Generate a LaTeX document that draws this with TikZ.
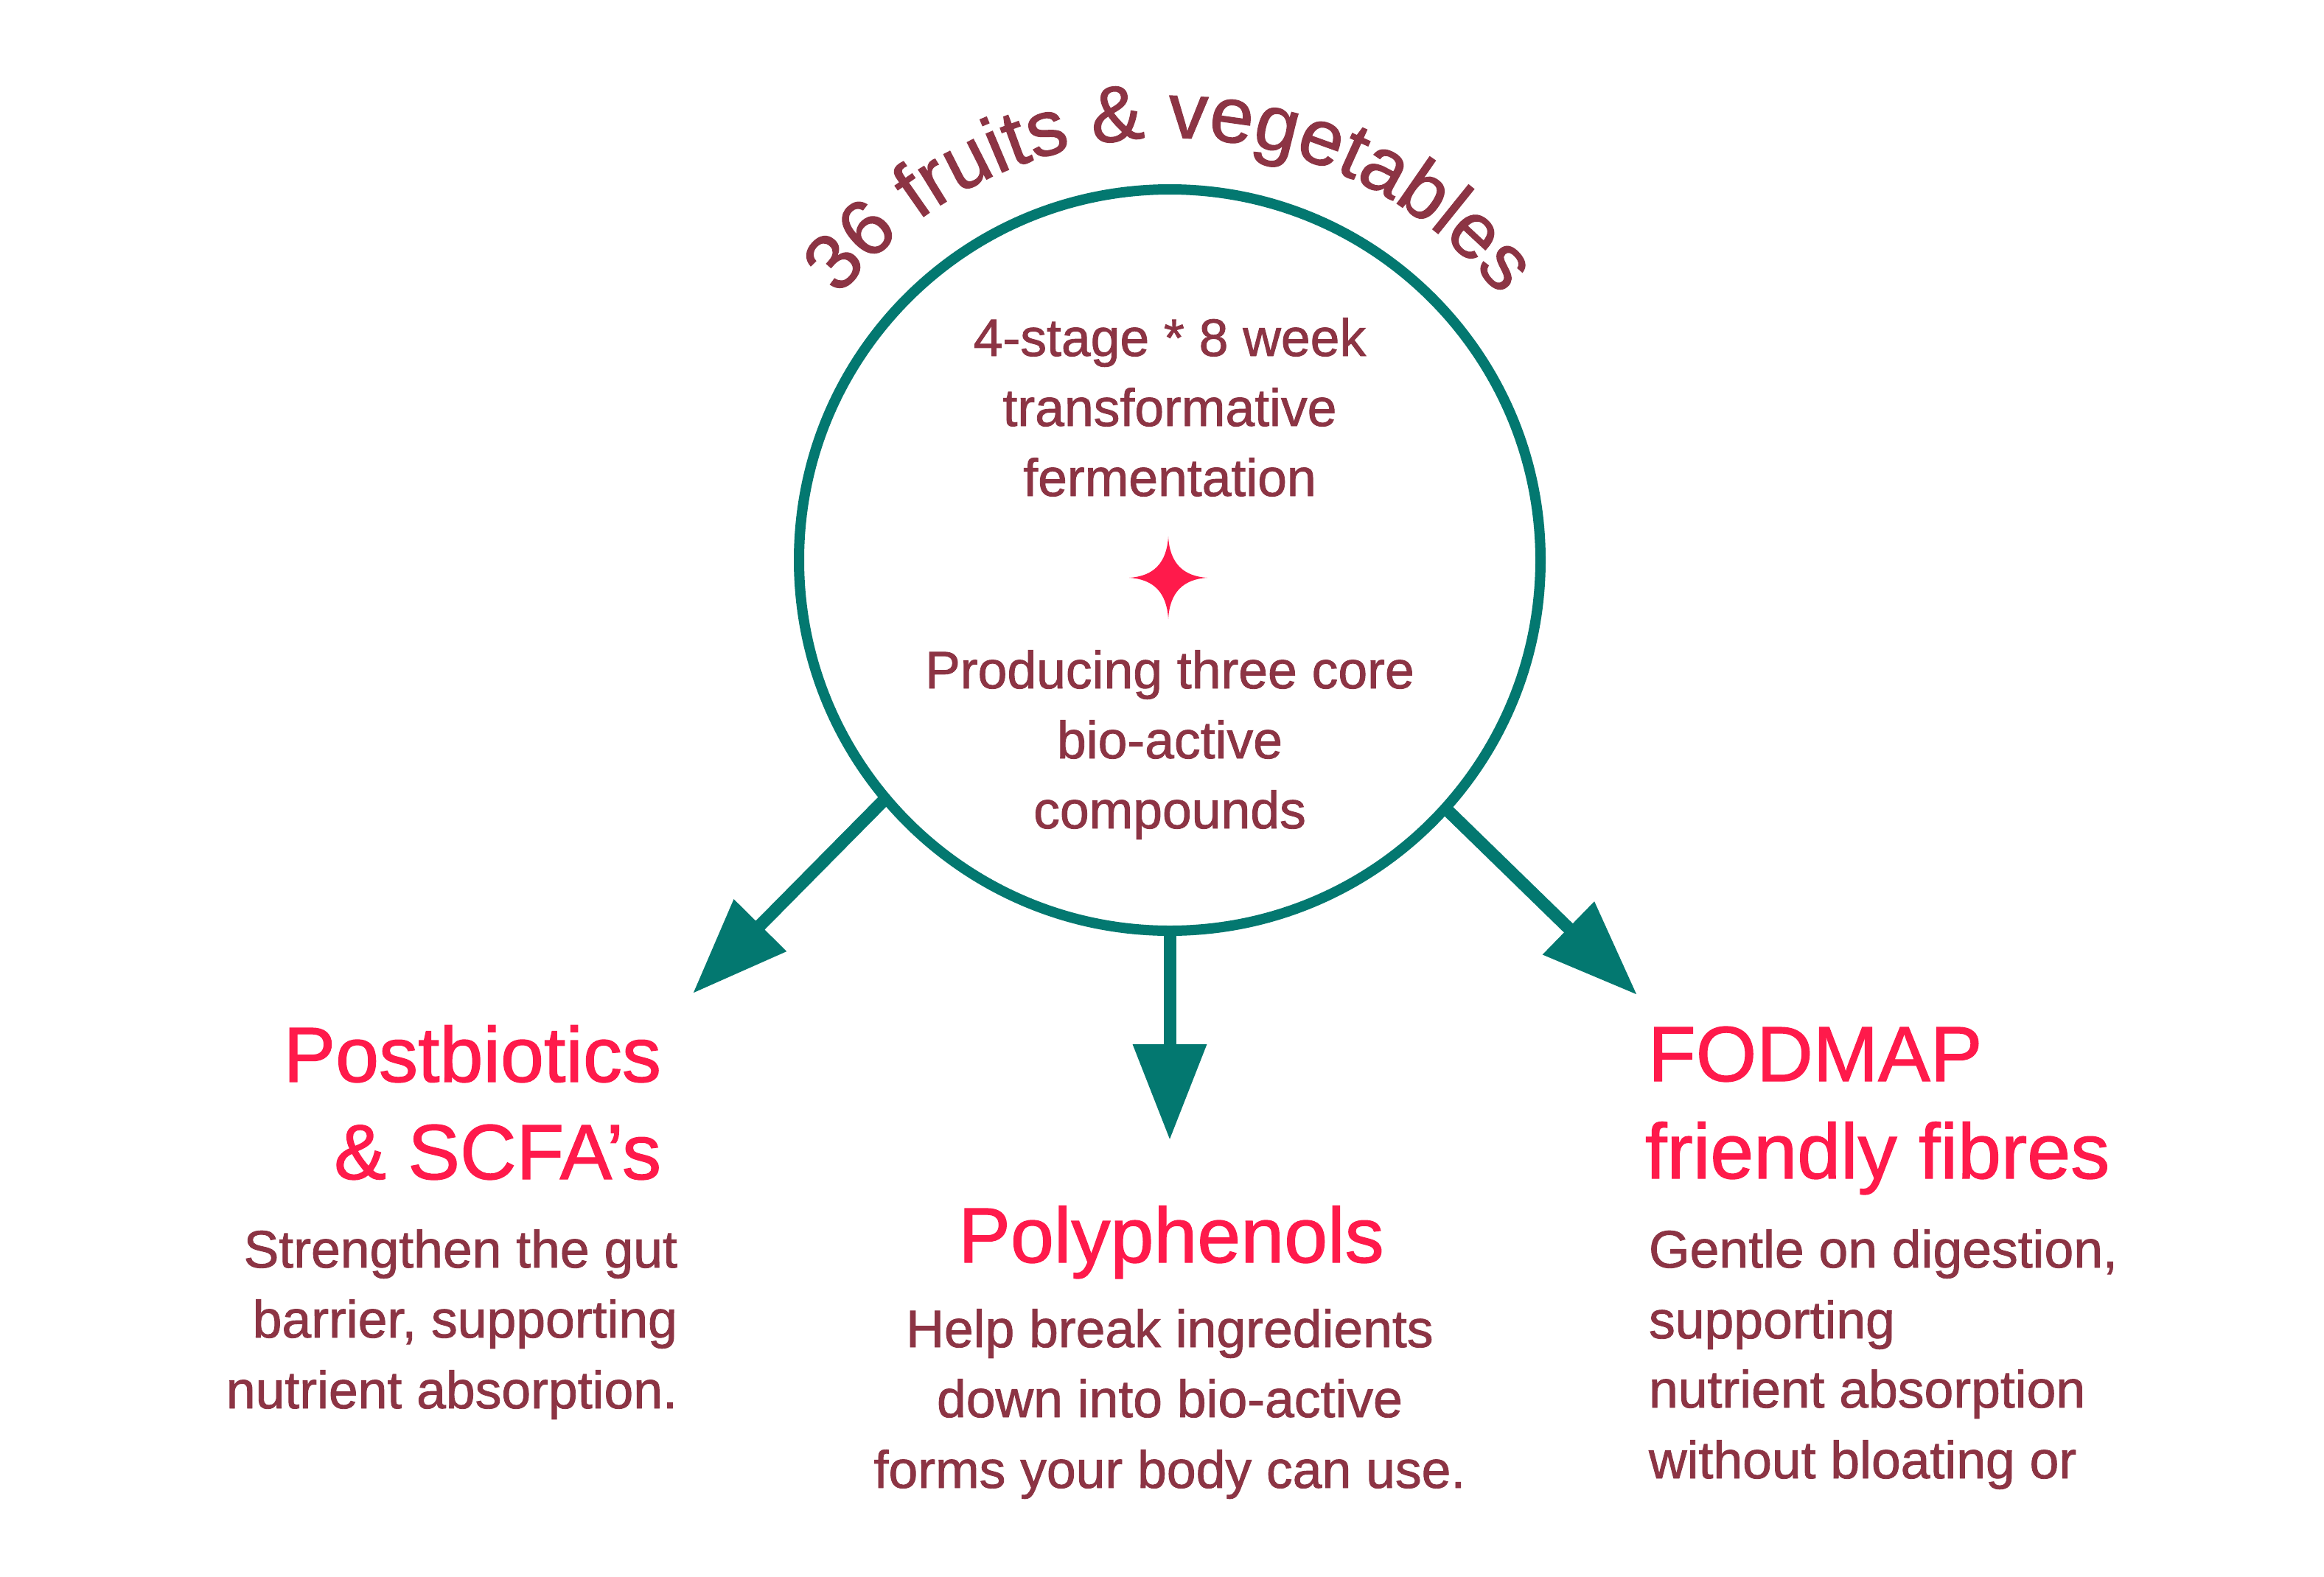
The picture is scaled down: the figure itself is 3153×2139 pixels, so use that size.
\documentclass[tikz,border=0pt]{standalone}
\usepackage{fontspec}
\setmainfont{Liberation Sans}[FakeBold=1.2]
\usetikzlibrary{arrows.meta}
\definecolor{teal1}{HTML}{037870}
\definecolor{maroon1}{HTML}{8C3444}
\definecolor{hot}{HTML}{FF1A4B}
\newcommand\bodyfnt{\fontsize{71.5pt}{95pt}\selectfont}
\newcommand\headfnt{\fontsize{106pt}{132pt}\selectfont}
\newcommand\titlefnt{\fontsize{107pt}{120pt}\selectfont}
\begin{document}
\begin{tikzpicture}[x=1pt,y=1pt,
  bodytxt/.style={font=\bodyfnt, text=maroon1, inner sep=0pt, outer sep=0pt},
  headtxt/.style={font=\headfnt, text=hot, inner sep=0pt, outer sep=0pt},
  titletxt/.style={font=\titlefnt, text=maroon1, inner sep=0pt, outer sep=0pt, anchor=base},
  flow/.style={draw=teal1, line width=17pt, -{Triangle[length=130pt,width=96pt]}}]
\useasboundingbox (0,0) rectangle (3153,-2139);
\fill[white] (0,0) rectangle (3153,-2139);

% hub circle
\node[circle, draw=teal1, line width=14pt, minimum size=1006pt, inner sep=0pt, outer sep=0pt] (hub) at (1587,-760) {};

% curved title, one glyph at a time along a circle of radius 575
\coordinate (tc) at (1587,-762);
\foreach \ch/\ang [count=\k] in {3/138.30, 6/132.37, f/124.96, r/121.70, u/116.96, i/112.81,
    t/110.15, s/106.00, \&/96.82, v/87.63, e/82.00, g/76.07, e/70.14, t/65.70, a/61.25,
    b/55.32, l/51.18, e/47.03, s/41.40}
  \node[titletxt, rotate=\ang-90] (title\k) at ([shift={(\ang:575)}]tc) {\ch};

% text inside circle
\node[bodytxt, anchor=base] (c1) at (1587,-483) {4-stage * 8 week};
\node[bodytxt, anchor=base] (c2) at (1587,-578) {transformative};
\node[bodytxt, anchor=base] (c3) at (1587,-673) {fermentation};
\node[bodytxt, anchor=base] (c4) at (1587,-934) {Producing three core};
\node[bodytxt, anchor=base] (c5) at (1587,-1029) {bio-active};
\node[bodytxt, anchor=base] (c6) at (1587,-1124) {compounds};

% sparkle
\begin{scope}[shift={(1585,-784)}]
\fill[hot] (0,56) .. controls (2,20) and (20,2) .. (53,0)
  .. controls (20,-2) and (2,-20) .. (0,-56)
  .. controls (-2,-20) and (-20,-2) .. (-53,0)
  .. controls (-20,2) and (-2,20) .. (0,56) -- cycle;
\end{scope}

% arrows
\coordinate (tipL) at (940,-1348);
\coordinate (tipM) at (1587,-1547);
\coordinate (tipR) at (2221,-1350);
\draw[flow] (hub.220) -- (tipL);
\draw[flow] (hub.south) -- (tipM);
\draw[flow] (hub.318) -- (tipR);

% left column
\node[headtxt, anchor=base east] (l1) at (897,-1468) {Postbiotics};
\node[headtxt, anchor=base east] (l2) at (897,-1600) {\& SCFA’s};
\node[bodytxt, anchor=base east] (l3) at (919,-1720) {Strengthen the gut};
\node[bodytxt, anchor=base east] (l4) at (919,-1815) {barrier, supporting};
\node[bodytxt, anchor=base east] (l5) at (919,-1911) {nutrient absorption.};

% middle column
\node[headtxt, anchor=base] (m1) at (1589,-1713) {Polyphenols};
\node[bodytxt, anchor=base] (m2) at (1587,-1828) {Help break ingredients};
\node[bodytxt, anchor=base] (m3) at (1587,-1923) {down into bio-active};
\node[bodytxt, anchor=base] (m4) at (1587,-2019) {forms your body can use.};

% right column
\node[headtxt, anchor=base west] (r1) at (2236,-1467) {FODMAP};
\node[headtxt, anchor=base west] (r2) at (2232,-1599) {friendly fibres};
\node[bodytxt, anchor=base west] (r3) at (2237,-1720) {Gentle on digestion,};
\node[bodytxt, anchor=base west] (r4) at (2237,-1816) {supporting};
\node[bodytxt, anchor=base west] (r5) at (2237,-1910) {nutrient absorption};
\node[bodytxt, anchor=base west] (r6) at (2237,-2006) {without bloating or};
\end{tikzpicture}
\end{document}
